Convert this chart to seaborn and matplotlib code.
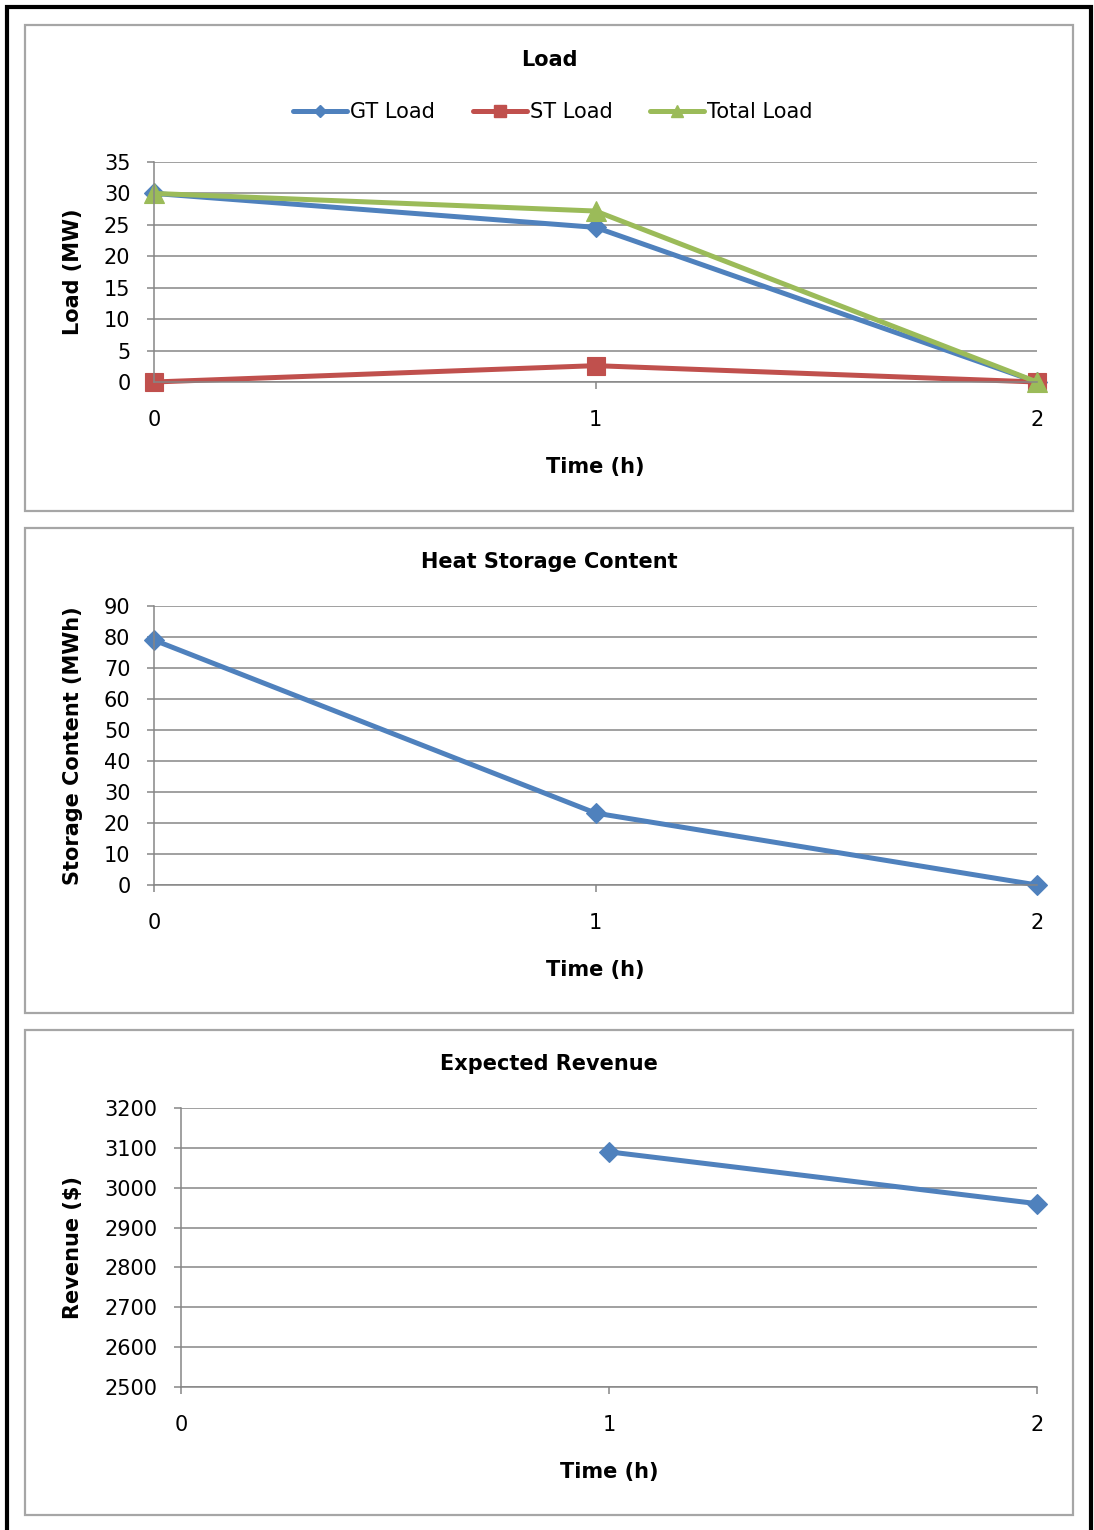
import numpy as np
import pandas as pd
import matplotlib
matplotlib.use("Agg")
import matplotlib.pyplot as plt
import seaborn as sns
from matplotlib.patches import Rectangle
from matplotlib.lines import Line2D

# ---- data -------------------------------------------------------------
hours = [0, 1, 2]
gt_load = [30.0, 24.6, 0.0]
st_load = [0.0, 2.6, 0.0]
total_load = [30.0, 27.2, 0.0]
storage_content = [79.0, 23.2, 0.0]
revenue = [np.nan, 3090.0, 2960.0]

load_ticks = [0, 5, 10, 15, 20, 25, 30, 35]
storage_ticks = [0, 10, 20, 30, 40, 50, 60, 70, 80, 90]
revenue_ticks = [2500, 2600, 2700, 2800, 2900, 3000, 3100, 3200]

BLUE = "#4F81BD"
RED = "#C0504D"
GREEN = "#9BBB59"
GRID = "#868686"
FRAME = "#A6A6A6"
LW = 3.6

sns.set_theme(style="white")
plt.rcParams["font.family"] = ["DejaVu Sans"]
plt.rcParams["text.color"] = "black"
plt.rcParams["axes.labelcolor"] = "black"
plt.rcParams["xtick.labelcolor"] = "black"
plt.rcParams["ytick.labelcolor"] = "black"

W, H = 1094, 1530
fig = plt.figure(figsize=(W / 100, H / 100), dpi=100)
fig.patch.set_facecolor("white")


def fx(x):
    return x / W


def fy(y):
    return 1 - y / H


def axes_box(x0, y0, x1, y1):
    return fig.add_axes([fx(x0), fy(y1), (x1 - x0) / W, (y1 - y0) / H])


def series(ax, y, color, marker, size):
    sns.lineplot(x=hours, y=y, ax=ax, color=color, linewidth=LW,
                 marker=marker, markersize=size, markeredgewidth=0.8,
                 markeredgecolor=color, markerfacecolor=color, clip_on=False)


# outer black border and the three chart frames
fig.add_artist(Rectangle((fx(7), fy(1560)), fx(1091) - fx(7), fy(7) - fy(1560),
                         transform=fig.transFigure, fill=False,
                         edgecolor="black", linewidth=3.0))
for (y0, y1) in [(25, 511), (528, 1013), (1030, 1515)]:
    fig.add_artist(Rectangle((fx(25), fy(y1)), fx(1073) - fx(25), fy(y0) - fy(y1),
                             transform=fig.transFigure, fill=False,
                             edgecolor=FRAME, linewidth=1.6))


def style_axes(ax, yticks, ylabel, label_x_px, ax_left_px, ax_w_px, ax_h_px):
    ax.set_xlim(0, 2)
    ax.set_ylim(yticks[0], yticks[-1])
    ax.set_xticks(hours)
    ax.set_xticklabels([str(h) for h in hours])
    ax.set_yticks(yticks)
    ax.set_yticklabels([str(t) for t in yticks])
    ax.set_facecolor("white")
    for s in ["top", "right"]:
        ax.spines[s].set_visible(False)
    for s in ["left", "bottom"]:
        ax.spines[s].set_color(GRID)
        ax.spines[s].set_linewidth(1.1)
    ax.yaxis.grid(True, color=GRID, linewidth=1.1)
    ax.xaxis.grid(False)
    ax.set_axisbelow(True)
    ax.tick_params(axis="y", direction="out", length=5, width=1.1, color=GRID,
                   pad=12, labelsize=15, left=True, labelcolor="black")
    ax.tick_params(axis="x", direction="out", length=5, width=1.1, color=GRID,
                   pad=15, labelsize=15, bottom=True, labelcolor="black")
    ax.set_ylabel(ylabel, fontsize=15, fontweight="bold", color="black")
    ax.yaxis.set_label_coords((label_x_px - ax_left_px) / ax_w_px, 0.5)
    ax.yaxis.label.set_va("center")
    ax.set_xlabel("Time (h)", fontsize=15, fontweight="bold", color="black")
    ax.xaxis.set_label_coords(0.5, -85 / ax_h_px)
    ax.xaxis.label.set_va("center")


# ---- Load ----------------------------------------------------------------
ax1 = axes_box(154, 162, 1037, 382)
series(ax1, gt_load, BLUE, "D", 10.5)
series(ax1, st_load, RED, "s", 12.5)
series(ax1, total_load, GREEN, "^", 14)
style_axes(ax1, load_ticks, "Load (MW)", 73, 154, 883, 220)
fig.text(fx(549), fy(60), "Load", ha="center", va="center",
         fontsize=15, fontweight="bold")

handles = [
    Line2D([0], [0], color=BLUE, lw=LW, marker="D", markersize=6),
    Line2D([0], [0], color=RED, lw=LW, marker="s", markersize=8),
    Line2D([0], [0], color=GREEN, lw=LW, marker="^", markersize=8),
]
fig.legend(handles, ["GT Load", "ST Load", "Total Load"], ncol=3,
           loc="center", bbox_to_anchor=(fx(553), fy(112)), frameon=False,
           fontsize=15, handlelength=2.6, handletextpad=0.15,
           columnspacing=1.8)

# ---- Heat Storage Content ------------------------------------------------
ax2 = axes_box(154, 606, 1037, 885)
series(ax2, storage_content, BLUE, "D", 10.5)
style_axes(ax2, storage_ticks, "Storage Content (MWh)", 73, 154, 883, 279)
fig.text(fx(549), fy(562), "Heat Storage Content", ha="center", va="center",
         fontsize=15, fontweight="bold")

# ---- Expected Revenue ----------------------------------------------------
ax3 = axes_box(181, 1108, 1037, 1387)
rev_df = pd.DataFrame({"hour": hours, "revenue": revenue}).dropna()
sns.lineplot(data=rev_df, x="hour", y="revenue", ax=ax3, color=BLUE,
             linewidth=LW, marker="D", markersize=10.5, markeredgewidth=0.8,
             markeredgecolor=BLUE, markerfacecolor=BLUE, clip_on=False)
style_axes(ax3, revenue_ticks, "Revenue ($)", 73, 181, 856, 279)
fig.text(fx(549), fy(1064), "Expected Revenue", ha="center", va="center",
         fontsize=15, fontweight="bold")

fig.savefig("out.png", dpi=100, facecolor="white")
